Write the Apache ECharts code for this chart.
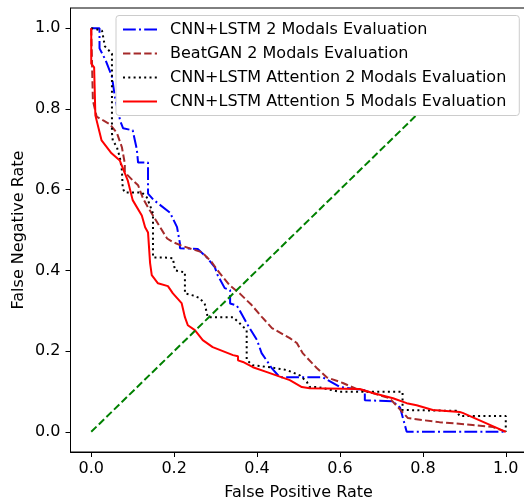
<!DOCTYPE html>
<html>
<head>
<meta charset="utf-8">
<script src="https://cdn.jsdelivr.net/npm/echarts@6/dist/echarts.min.js"></script>
<style>
    html, body { margin: 0; padding: 0; background: #fff; }
    #chart { width: 524px; height: 504px; }
</style>
</head>
<body>
<div id="chart"></div>
<script>
    // values
    var tickVals = [0, 0.2, 0.4, 0.6, 0.8, 1.0];

    var cnn2Fpr = [0, 0.02, 0.02, 0.035, 0.05, 0.057, 0.07, 0.077, 0.10, 0.11, 0.113, 0.137, 0.137, 0.15, 0.19, 0.207, 0.214, 0.214, 0.257, 0.279, 0.298, 0.305, 0.322, 0.335, 0.335, 0.351, 0.358, 0.378, 0.40, 0.411, 0.423, 0.436, 0.455, 0.559, 0.60, 0.66, 0.66, 0.727, 0.745, 0.761, 1.0];
    var cnn2Fnr = [1.0, 1.0, 0.95, 0.92, 0.88, 0.83, 0.77, 0.752, 0.747, 0.70, 0.667, 0.667, 0.59, 0.575, 0.543, 0.507, 0.467, 0.455, 0.453, 0.432, 0.408, 0.388, 0.356, 0.351, 0.318, 0.313, 0.301, 0.264, 0.227, 0.195, 0.177, 0.157, 0.135, 0.135, 0.111, 0.103, 0.078, 0.076, 0.06, 0, 0];

    var ganFpr = [0, 0.004, 0.013, 0.028, 0.045, 0.062, 0.074, 0.081, 0.081, 0.10, 0.113, 0.125, 0.137, 0.149, 0.166, 0.183, 0.197, 0.221, 0.245, 0.267, 0.291, 0.31, 0.334, 0.358, 0.387, 0.412, 0.436, 0.479, 0.496, 0.51, 0.544, 0.568, 0.607, 0.64, 0.679, 0.72, 0.74, 0.764, 0.80, 0.84, 0.92, 0.969, 1.0];
    var ganFnr = [1.0, 0.821, 0.781, 0.772, 0.762, 0.74, 0.705, 0.665, 0.643, 0.623, 0.611, 0.578, 0.556, 0.536, 0.507, 0.479, 0.47, 0.46, 0.452, 0.445, 0.42, 0.393, 0.363, 0.343, 0.314, 0.284, 0.257, 0.232, 0.22, 0.195, 0.158, 0.135, 0.121, 0.106, 0.096, 0.083, 0.061, 0.034, 0.029, 0.024, 0.017, 0.012, 0];

    var att2Fpr = [0, 0.026, 0.033, 0.05, 0.05, 0.052, 0.062, 0.069, 0.074, 0.076, 0.081, 0.122, 0.134, 0.141, 0.149, 0.149, 0.173, 0.197, 0.202, 0.226, 0.226, 0.245, 0.262, 0.274, 0.281, 0.342, 0.358, 0.375, 0.375, 0.39, 0.431, 0.472, 0.503, 0.52, 0.527, 0.546, 0.60, 0.751, 0.751, 0.881, 0.889, 1.0, 1.0];
    var att2Fnr = [1.0, 0.994, 0.955, 0.937, 0.74, 0.722, 0.705, 0.68, 0.648, 0.603, 0.593, 0.593, 0.581, 0.563, 0.541, 0.432, 0.432, 0.43, 0.40, 0.395, 0.343, 0.338, 0.331, 0.316, 0.284, 0.284, 0.269, 0.252, 0.178, 0.165, 0.16, 0.153, 0.14, 0.124, 0.111, 0.111, 0.099, 0.099, 0.054, 0.052, 0.039, 0.039, 0];

    var att5Fpr = [0, 0, 0.007, 0.01, 0.025, 0.049, 0.069, 0.088, 0.10, 0.122, 0.13, 0.137, 0.142, 0.146, 0.161, 0.185, 0.197, 0.218, 0.226, 0.233, 0.25, 0.269, 0.293, 0.342, 0.354, 0.354, 0.366, 0.39, 0.424, 0.479, 0.508, 0.527, 0.648, 0.679, 0.728, 0.761, 0.785, 0.824, 0.889, 0.896, 1.0];
    var att5Fnr = [1.0, 0.912, 0.903, 0.784, 0.722, 0.69, 0.672, 0.623, 0.574, 0.536, 0.507, 0.494, 0.418, 0.388, 0.368, 0.361, 0.343, 0.319, 0.284, 0.264, 0.252, 0.227, 0.21, 0.19, 0.187, 0.177, 0.173, 0.16, 0.148, 0.128, 0.111, 0.108, 0.106, 0.096, 0.083, 0.071, 0.066, 0.054, 0.049, 0.047, 0];

    var diagFpr = [0, 1];
    var diagFnr = [0, 1];

    function pairs(xs, ys) {
        return xs.map(function (x, i) { return [x, ys[i]]; });
    }

    var font = 'DejaVu Sans';

    function lineSeries(name, xs, ys, color, type, width) {
        return {
            name: name,
            type: 'line',
            data: pairs(xs, ys),
            symbol: 'none',
            lineStyle: { color: color, width: width, type: type },
            itemStyle: { color: color },
            silent: true
        };
    }

    var chart = echarts.init(document.getElementById('chart'));
    chart.setOption({
        animation: false,
        grid: {
            left: 70.5, top: 8, width: 456, height: 444,
            outerBoundsMode: 'none',
            show: true, borderColor: '#000', borderWidth: 1
        },
        legend: {
            orient: 'vertical',
            left: 116, top: 15.5,
            padding: [6, 13, 6, 6],
            itemGap: 8,
            itemWidth: 34,
            itemHeight: 14,
            z: 10,
            backgroundColor: '#ffffff',
            borderColor: '#cccccc',
            borderWidth: 1,
            borderRadius: 3,
            itemStyle: { opacity: 0 },
            textStyle: { fontFamily: font, fontSize: 16, lineHeight: 16, color: '#000', padding: [0, 0, 0, 8] },
            data: ['CNN+LSTM 2 Modals Evaluation', 'BeatGAN 2 Modals Evaluation',
                'CNN+LSTM Attention 2 Modals Evaluation', 'CNN+LSTM Attention 5 Modals Evaluation']
        },
        xAxis: {
            type: 'value',
            min: -0.05, max: 1.05,
            name: 'False Positive Rate',
            nameLocation: 'middle',
            nameGap: 33,
            nameMoveOverlap: false,
            nameTextStyle: { fontFamily: font, fontSize: 16, color: '#000' },
            axisLine: { show: true, onZero: false, lineStyle: { color: '#000', width: 1 } },
            axisTick: { show: true, length: 5, customValues: tickVals, lineStyle: { color: '#000' } },
            axisLabel: {
                customValues: tickVals, margin: 9,
                fontFamily: font, fontSize: 16, color: '#000',
                formatter: function (v) { return v.toFixed(1); }
            },
            splitLine: { show: false }
        },
        yAxis: {
            type: 'value',
            min: -0.05, max: 1.05,
            name: 'False Negative Rate',
            nameLocation: 'middle',
            nameGap: 44,
            nameMoveOverlap: false,
            nameTextStyle: { fontFamily: font, fontSize: 16, color: '#000' },
            axisLine: { show: true, onZero: false, lineStyle: { color: '#000', width: 1 } },
            axisTick: { show: true, length: 5, customValues: tickVals, lineStyle: { color: '#000' } },
            axisLabel: {
                customValues: tickVals, margin: 10,
                fontFamily: font, fontSize: 16, color: '#000',
                formatter: function (v) { return v.toFixed(1); }
            },
            splitLine: { show: false }
        },
        series: [
            lineSeries('CNN+LSTM 2 Modals Evaluation', cnn2Fpr, cnn2Fnr, '#0000ff', [12.8, 3.2, 2, 3.2], 2),
            lineSeries('BeatGAN 2 Modals Evaluation', ganFpr, ganFnr, '#a52a2a', [7.4, 3.2], 2),
            lineSeries('CNN+LSTM Attention 2 Modals Evaluation', att2Fpr, att2Fnr, '#000000', [2, 3.3], 2),
            lineSeries('CNN+LSTM Attention 5 Modals Evaluation', att5Fpr, att5Fnr, '#ff0000', 'solid', 2),
            lineSeries('diagonal', diagFpr, diagFnr, '#008000', [7.4, 3.2], 2)
        ]
    });
</script>
</body>
</html>
